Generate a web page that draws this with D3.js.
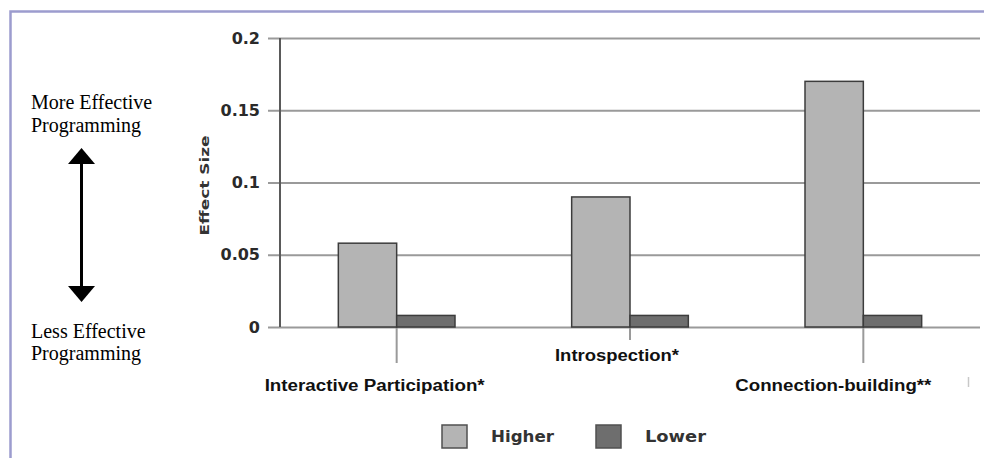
<!DOCTYPE html>
<html><head><meta charset="utf-8">
<script src="https://cdn.jsdelivr.net/npm/d3@7"></script>
<style>body{margin:0;background:#fff}svg{display:block}</style>
</head><body><svg id="c" width="984" height="458"></svg>
<script>
const categories = ["Interactive Participation*", "Introspection*", "Connection-building**"];
const seriesNames = ["Higher", "Lower"];
const higher = [0.058, 0.09, 0.17];
const lower = [0.008, 0.008, 0.008];
const yTicks = [0, 0.05, 0.1, 0.15, 0.2];
const yTickLabels = ["0", "0.05", "0.1", "0.15", "0.2"];
const yTitle = "Effect Size";
const topNote = ["More Effective", "Programming"];
const bottomNote = ["Less Effective", "Programming"];

const svg = d3.select("#c");
const fills = ["#b4b4b4", "#6e6e6e"];
const series = [higher, lower];

const x = d3.scaleBand().domain(categories).range([280, 980]).paddingInner(0.5).paddingOuter(0.25);
const xs = d3.scaleBand().domain(seriesNames).range([0, x.bandwidth()]);
const y = d3.scaleLinear().domain([0, 0.2]).range([327, 38]);

// frame
svg.append("path").attr("d", "M10.5,458 L10.5,11.5 L984,11.5")
  .attr("fill", "none").attr("stroke", "#9c9cce").attr("stroke-width", 2.5);

// gridlines and ticks
const yAxis = d3.axisLeft(y).tickValues(yTicks).tickSize(-712).tickPadding(20)
  .tickFormat((d, i) => yTickLabels[i]);
const gy = svg.append("g").attr("transform", "translate(268,0)").call(yAxis);
gy.select(".domain").remove();
gy.selectAll(".tick line").attr("stroke", "#9a9a9a").attr("stroke-width", 2);
gy.selectAll(".tick text").attr("x", -8).attr("font-family", "DejaVu Sans").attr("font-weight", "bold")
  .attr("font-size", 16).attr("fill", "#2a2a2a");

// y axis line
svg.append("line").attr("x1", 280).attr("x2", 280).attr("y1", y(0.2)).attr("y2", y(0))
  .attr("stroke", "#5a5a5a").attr("stroke-width", 2);

// y title
svg.append("text").attr("transform", `translate(209,${(y(0.2) + y(0)) / 2 + 3}) rotate(-90)`)
  .attr("text-anchor", "middle").attr("font-family", "DejaVu Sans").attr("font-weight", "bold")
  .attr("font-size", 13).attr("fill", "#333").attr("textLength", 100).attr("lengthAdjust", "spacingAndGlyphs")
  .text(yTitle);

// category tick lines
const cat = svg.append("g");
categories.forEach((c, i) => {
  const cx = x(c) + x.bandwidth() / 2;
  cat.append("line").attr("x1", cx).attr("x2", cx).attr("y1", y(0)).attr("y2", i % 2 ? 340 : 363)
    .attr("stroke", "#9a9a9a").attr("stroke-width", 2);
});
// faint stray mark at far right
svg.append("line").attr("x1", 968.5).attr("x2", 968.5).attr("y1", 377).attr("y2", 387)
  .attr("stroke", "#c8c8c8").attr("stroke-width", 1.5);

// bars
const gBars = svg.append("g");
series.forEach((vals, s) => {
  gBars.selectAll(null).data(vals).enter().append("rect")
    .attr("x", (d, i) => x(categories[i]) + xs(seriesNames[s]))
    .attr("width", xs.bandwidth())
    .attr("y", d => y(d))
    .attr("height", d => y(0) - y(d))
    .attr("fill", fills[s]).attr("stroke", "#3c3c3c").attr("stroke-width", 1.5);
});

// category labels
const labelDx = [-22, -13, -30];
const labelLen = [220, 124, 196];
categories.forEach((c, i) => {
  svg.append("text").attr("x", x(c) + x.bandwidth() / 2 + labelDx[i]).attr("y", i % 2 ? 361 : 391)
    .attr("text-anchor", "middle").attr("font-family", "Liberation Sans, Arial").attr("font-weight", "bold")
    .attr("font-size", 16).attr("fill", "#111")
    .attr("textLength", labelLen[i]).attr("lengthAdjust", "spacingAndGlyphs").text(c);
});

// legend
const legX = [442, 596];
const legLen = [63, 61];
seriesNames.forEach((n, s) => {
  svg.append("rect").attr("x", legX[s]).attr("y", 425).attr("width", 25).attr("height", 23)
    .attr("fill", fills[s]).attr("stroke", "#505050").attr("stroke-width", 1.5);
  svg.append("text").attr("x", legX[s] + 49).attr("y", 442).attr("font-family", "DejaVu Sans")
    .attr("font-weight", "bold").attr("font-size", 16).attr("fill", "#333")
    .attr("textLength", legLen[s]).attr("lengthAdjust", "spacingAndGlyphs").text(n);
});

// left annotation
const serif = "Liberation Serif, Times New Roman, serif";
topNote.forEach((t, i) => svg.append("text").attr("x", 31).attr("y", 109 + i * 23)
  .attr("font-family", serif).attr("font-size", 20).attr("fill", "#000").text(t));
bottomNote.forEach((t, i) => svg.append("text").attr("x", 31).attr("y", 338 + i * 22)
  .attr("font-family", serif).attr("font-size", 20).attr("fill", "#000").text(t));

// double arrow
svg.append("line").attr("x1", 81.5).attr("x2", 81.5).attr("y1", 160).attr("y2", 290)
  .attr("stroke", "#000").attr("stroke-width", 3);
svg.append("path").attr("d", "M81.5,148 L95,164 L68,164 Z").attr("fill", "#000");
svg.append("path").attr("d", "M81.5,302 L95,286 L68,286 Z").attr("fill", "#000");
</script></body></html>
